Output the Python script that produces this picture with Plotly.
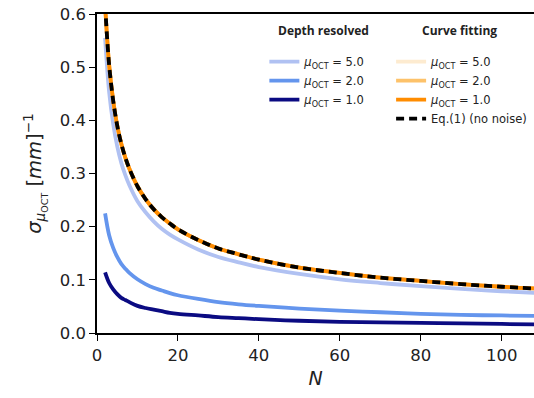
import plotly.graph_objects as go

N = [2, 3, 4, 5, 6, 7, 8, 10, 12, 14, 16, 18, 20, 25, 30, 35, 40, 50, 60, 70, 80, 90, 100, 110]

# Depth resolved
depth_mu5 = [0.555, 0.453, 0.393, 0.351, 0.320, 0.297, 0.278, 0.248, 0.227, 0.210, 0.196, 0.185,
             0.176, 0.157, 0.143, 0.133, 0.124, 0.111, 0.101, 0.094, 0.088, 0.083, 0.0785, 0.075]
depth_mu2 = [0.225, 0.184, 0.160, 0.143, 0.130, 0.121, 0.113, 0.101, 0.092, 0.085, 0.080, 0.075,
             0.071, 0.064, 0.058, 0.054, 0.051, 0.046, 0.042, 0.039, 0.036, 0.034, 0.033, 0.032]
depth_mu1 = [0.114, 0.094, 0.082, 0.073, 0.066, 0.062, 0.058, 0.051, 0.047, 0.044, 0.041, 0.038,
             0.036, 0.033, 0.030, 0.028, 0.026, 0.023, 0.021, 0.020, 0.019, 0.018, 0.017, 0.016]

# Curve fitting (coincide with Eq.(1))
fit_mu5 = [0.617, 0.504, 0.437, 0.390, 0.356, 0.330, 0.309, 0.276, 0.252, 0.233, 0.218, 0.206,
           0.195, 0.175, 0.159, 0.148, 0.138, 0.123, 0.113, 0.104, 0.098, 0.092, 0.087, 0.083]
fit_mu2 = list(fit_mu5)
fit_mu1 = list(fit_mu5)
eq1 = [0.617, 0.504, 0.437, 0.390, 0.356, 0.330, 0.309, 0.276, 0.252, 0.233, 0.218, 0.206,
       0.195, 0.175, 0.159, 0.148, 0.138, 0.123, 0.113, 0.104, 0.098, 0.092, 0.087, 0.083]

x_ticks = [0, 20, 40, 60, 80, 100]
y_ticks = [0.0, 0.1, 0.2, 0.3, 0.4, 0.5, 0.6]

mu = "<i>μ</i><sub>OCT</sub>"
fig = go.Figure()

def add(y, color, name, legend, dash="solid", width=3.8):
    fig.add_trace(go.Scatter(x=N, y=y, mode="lines", name=name, legend=legend,
                             line=dict(color=color, width=width, dash=dash, shape="spline")))

add(depth_mu5, "#b0c1f2", f"{mu} = 5.0", "legend")
add(depth_mu2, "#6495ed", f"{mu} = 2.0", "legend")
add(depth_mu1, "#0b0b82", f"{mu} = 1.0", "legend")
add(fit_mu5, "#fdebd0", f"{mu} = 5.0", "legend2")
add(fit_mu2, "#fdc26a", f"{mu} = 2.0", "legend2")
add(fit_mu1, "#ff8c00", f"{mu} = 1.0", "legend2")
add(eq1, "black", "Eq.(1) (no noise)", "legend2", dash="8px,5px", width=3.8)

axis_common = dict(showline=True, linecolor="black", linewidth=1.5, ticks="outside",
                   ticklen=6, tickwidth=1.3, tickcolor="black", showgrid=False, zeroline=False,
                   tickfont=dict(family="DejaVu Sans", size=16.5, color="#222"))

ML, MR, MT, MB = 97, 0, 14, 65
fig.update_layout(
    width=534, height=398,
    margin=dict(l=ML, r=MR, t=MT, b=MB, autoexpand=False),
    plot_bgcolor="white", paper_bgcolor="white",
    font=dict(family="DejaVu Sans", color="#222"),
    xaxis=dict(range=[0, 108], tickvals=x_ticks, mirror=True,
               title=dict(text="<i>N</i>", font=dict(size=19), standoff=8), **axis_common),
    yaxis=dict(range=[0, 0.6], tickvals=y_ticks, tickformat=".1f",
               title=dict(text="<i>σ</i><sub><i>μ</i><sub>OCT</sub></sub> [<i>mm</i>]<sup>−1</sup>",
                          font=dict(size=19.5), standoff=13), **axis_common),
    legend=dict(x=0.383, y=0.896, xanchor="left", yanchor="top", bgcolor="rgba(0,0,0,0)",
                font=dict(family="DejaVu Sans", size=11.5, color="#222"), tracegroupgap=0, itemwidth=30),
    legend2=dict(x=0.673, y=0.896, xanchor="left", yanchor="top", bgcolor="rgba(0,0,0,0)",
                 font=dict(family="DejaVu Sans", size=11.5, color="#222"), tracegroupgap=0, itemwidth=30),
    showlegend=True,
)

pw, ph = 534 - ML - MR, 398 - MT - MB
def px2paper(x, y):
    return (x - ML) / pw, (398 - MB - y) / ph

ax, ay = px2paper(323, 31)
fig.add_annotation(x=ax, y=ay, xref="paper", yref="paper", text="<b>Depth resolved</b>",
                   xanchor="center", yanchor="middle",
                   showarrow=False, font=dict(family="Open Sans", size=12, color="#222"))
ax, ay = px2paper(459, 31)
fig.add_annotation(x=ax, y=ay, xref="paper", yref="paper", text="<b>Curve fitting</b>",
                   xanchor="center", yanchor="middle",
                   showarrow=False, font=dict(family="Open Sans", size=12, color="#222"))

fig.write_html("out.html", config={"displayModeBar": False},
               post_script="document.body.style.margin='0';")
